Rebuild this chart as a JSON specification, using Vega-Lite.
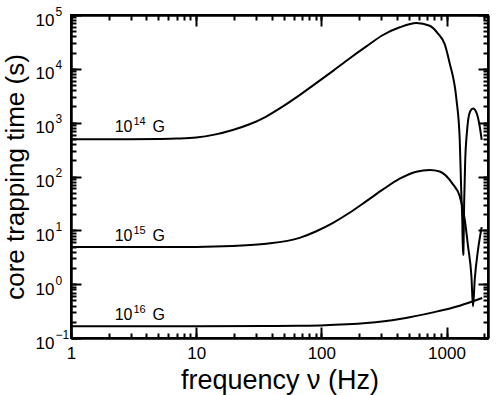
{
  "$schema": "https://vega.github.io/schema/vega-lite/v6.json",
  "width": 417,
  "height": 323,
  "autosize": "none",
  "padding": {"left": 71, "top": 15, "right": 11, "bottom": 57},
  "background": "white",
  "config": {
    "view": {"stroke": "black", "strokeWidth": 2},
    "axis": {
      "domainColor": "black",
      "domainWidth": 2,
      "labelFont": "Liberation Sans",
      "labelFontSize": 17,
      "labelColor": "black",
      "titleFont": "Liberation Sans",
      "titleFontSize": 26,
      "titleFontWeight": "normal",
      "titleColor": "black",
      "grid": false
    }
  },
  "datasets": {
    "curves": [
      {"B": "14", "f": 1, "t": 490},
      {"B": "14", "f": 2, "t": 490},
      {"B": "14", "f": 3, "t": 492},
      {"B": "14", "f": 5, "t": 497},
      {"B": "14", "f": 7, "t": 506},
      {"B": "14", "f": 10, "t": 530},
      {"B": "14", "f": 14, "t": 600},
      {"B": "14", "f": 19.6, "t": 731},
      {"B": "14", "f": 26.7, "t": 933},
      {"B": "14", "f": 36.3, "t": 1300},
      {"B": "14", "f": 49.3, "t": 2000},
      {"B": "14", "f": 67, "t": 3240},
      {"B": "14", "f": 91, "t": 5420},
      {"B": "14", "f": 124, "t": 9180},
      {"B": "14", "f": 168, "t": 15600},
      {"B": "14", "f": 229, "t": 26100},
      {"B": "14", "f": 311, "t": 42500},
      {"B": "14", "f": 423, "t": 59100},
      {"B": "14", "f": 574, "t": 71000},
      {"B": "14", "f": 734, "t": 63200},
      {"B": "14", "f": 855, "t": 45200},
      {"B": "14", "f": 967, "t": 28800},
      {"B": "14", "f": 1055, "t": 13300},
      {"B": "14", "f": 1200, "t": 2730},
      {"B": "14", "f": 1275, "t": 491},
      {"B": "14", "f": 1310, "t": 57.5},
      {"B": "14", "f": 1336, "t": 15.9},
      {"B": "14", "f": 1355, "t": 3.5},
      {"B": "14", "f": 1362, "t": 3.6},
      {"B": "14", "f": 1385, "t": 37.5},
      {"B": "14", "f": 1411, "t": 208},
      {"B": "14", "f": 1451, "t": 608},
      {"B": "14", "f": 1491, "t": 1156},
      {"B": "14", "f": 1547, "t": 1629},
      {"B": "14", "f": 1628, "t": 1832},
      {"B": "14", "f": 1734, "t": 1543},
      {"B": "14", "f": 1819, "t": 1005},
      {"B": "14", "f": 1910, "t": 480},
      {"B": "15", "f": 1, "t": 4.9},
      {"B": "15", "f": 3, "t": 4.9},
      {"B": "15", "f": 10, "t": 4.92},
      {"B": "15", "f": 19.5, "t": 5.1},
      {"B": "15", "f": 36.3, "t": 5.61},
      {"B": "15", "f": 67.1, "t": 7.25},
      {"B": "15", "f": 91.2, "t": 9.62},
      {"B": "15", "f": 124, "t": 13.8},
      {"B": "15", "f": 168, "t": 21.2},
      {"B": "15", "f": 229, "t": 34.8},
      {"B": "15", "f": 311, "t": 57.5},
      {"B": "15", "f": 423, "t": 91},
      {"B": "15", "f": 574, "t": 123},
      {"B": "15", "f": 734, "t": 132},
      {"B": "15", "f": 882, "t": 124},
      {"B": "15", "f": 1127, "t": 71.3},
      {"B": "15", "f": 1275, "t": 43.2},
      {"B": "15", "f": 1398, "t": 15.9},
      {"B": "15", "f": 1486, "t": 5.06},
      {"B": "15", "f": 1581, "t": 1.4},
      {"B": "15", "f": 1628, "t": 0.386},
      {"B": "15", "f": 1680, "t": 1.21},
      {"B": "15", "f": 1786, "t": 4.39},
      {"B": "15", "f": 1910, "t": 11.5},
      {"B": "16", "f": 1, "t": 0.166},
      {"B": "16", "f": 10, "t": 0.166},
      {"B": "16", "f": 36, "t": 0.167},
      {"B": "16", "f": 67, "t": 0.168},
      {"B": "16", "f": 97, "t": 0.171},
      {"B": "16", "f": 229, "t": 0.189},
      {"B": "16", "f": 423, "t": 0.225},
      {"B": "16", "f": 781, "t": 0.299},
      {"B": "16", "f": 1275, "t": 0.398},
      {"B": "16", "f": 1930, "t": 0.553}
    ],
    "labels": [
      {"f": 3.1, "t": 662, "exp": "14"},
      {"f": 3.1, "t": 6.27, "exp": "15"},
      {"f": 3.1, "t": 0.218, "exp": "16"}
    ]
  },
  "layer": [
    {
      "data": {"name": "curves"},
      "mark": {"type": "line", "color": "black", "strokeWidth": 2, "interpolate": "monotone", "clip": true},
      "encoding": {
        "x": {
          "field": "f", "type": "quantitative",
          "scale": {"type": "log", "domain": [1, 2145], "nice": false},
          "axis": {
            "orient": "bottom",
            "title": "frequency ν (Hz)",
            "titleFontSize": 27,
            "titlePadding": 6,
            "tickCount": 3,
            "format": "d",
            "labelFlush": false,
            "tickColor": "black",
            "tickWidth": 2,
            "tickSize": -11,
            "labelPadding": 18
          }
        },
        "y": {
          "field": "t", "type": "quantitative",
          "scale": {"type": "log", "domain": [0.1, 100000], "nice": false},
          "axis": {
            "orient": "left",
            "title": "core trapping time (s)",
            "titlePadding": 7,
            "tickCount": 5,
            "labelExpr": "'10'",
            "labelAlign": "left",
            "labelBaseline": "middle",
            "labelOffset": 5,
            "tickColor": "black",
            "tickWidth": 2,
            "tickSize": -10,
            "labelPadding": 46
          }
        },
        "detail": {"field": "B"}
      }
    },
    {
      "data": {"name": "labels"},
      "mark": {"type": "text", "font": "Liberation Sans", "fontSize": 16, "color": "black", "align": "right", "baseline": "alphabetic"},
      "encoding": {
        "x": {
          "field": "f", "type": "quantitative",
          "scale": {"type": "log", "domain": [1, 2145], "nice": false},
          "axis": {
            "orient": "bottom", "title": null, "labels": false,
            "tickColor": "black", "tickWidth": 2, "tickSize": -5
          }
        },
        "y": {
          "field": "t", "type": "quantitative",
          "scale": {"type": "log", "domain": [0.1, 100000], "nice": false},
          "axis": {
            "orient": "left", "title": null, "labels": false,
            "tickColor": "black", "tickWidth": 2, "tickSize": -5
          }
        },
        "text": {"value": "10"}
      }
    },
    {
      "data": {"name": "labels"},
      "mark": {"type": "text", "font": "Liberation Sans", "fontSize": 11, "color": "black", "align": "left", "baseline": "alphabetic", "dx": 1, "dy": -7},
      "encoding": {
        "x": {
          "field": "f", "type": "quantitative",
          "scale": {"type": "log", "domain": [1, 2145], "nice": false},
          "axis": {
            "orient": "top", "title": null, "labels": false, "tickCount": 3,
            "tickColor": "black", "tickWidth": 2, "tickSize": -11
          }
        },
        "y": {
          "field": "t", "type": "quantitative",
          "scale": {"type": "log", "domain": [0.1, 100000], "nice": false},
          "axis": {
            "orient": "left", "title": null, "ticks": false, "domain": false,
            "tickCount": 5,
            "labelExpr": "format(round(log(datum.value)/LN10), 'd')",
            "labelFontSize": 12,
            "labelAlign": "left",
            "labelBaseline": "middle",
            "labelOffset": -4,
            "labelPadding": 16
          }
        },
        "text": {"field": "exp"}
      }
    },
    {
      "data": {"name": "labels"},
      "mark": {"type": "text", "font": "Liberation Sans", "fontSize": 16, "color": "black", "align": "left", "baseline": "alphabetic", "dx": 20},
      "encoding": {
        "x": {
          "field": "f", "type": "quantitative",
          "scale": {"type": "log", "domain": [1, 2145], "nice": false},
          "axis": {
            "orient": "top", "title": null, "labels": false,
            "tickColor": "black", "tickWidth": 2, "tickSize": -5
          }
        },
        "y": {
          "field": "t", "type": "quantitative",
          "scale": {"type": "log", "domain": [0.1, 100000], "nice": false},
          "axis": {
            "orient": "right", "title": null, "labels": false, "tickCount": 5,
            "tickColor": "black", "tickWidth": 2, "tickSize": -10
          }
        },
        "text": {"value": "G"}
      }
    },
    {
      "data": {"name": "labels"},
      "mark": {"type": "text", "opacity": 0},
      "encoding": {
        "x": {
          "field": "f", "type": "quantitative",
          "scale": {"type": "log", "domain": [1, 2145], "nice": false},
          "axis": null
        },
        "y": {
          "field": "t", "type": "quantitative",
          "scale": {"type": "log", "domain": [0.1, 100000], "nice": false},
          "axis": {
            "orient": "right", "title": null, "labels": false,
            "tickColor": "black", "tickWidth": 2, "tickSize": -5
          }
        },
        "text": {"value": ""}
      }
    }
  ],
  "resolve": {"axis": {"x": "independent", "y": "independent"}}
}
